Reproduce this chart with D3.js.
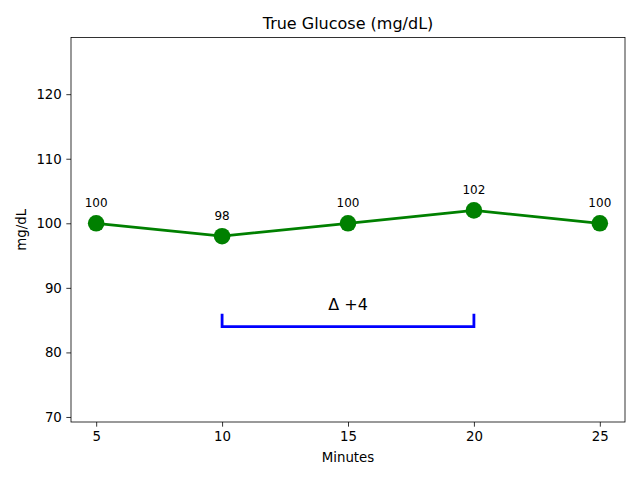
<!DOCTYPE html>
<html>
<head>
<meta charset="utf-8">
<script src="https://cdn.jsdelivr.net/npm/d3@7"></script>
<style>
body { margin: 0; background: #fff; }
svg { font-family: "DejaVu Sans", sans-serif; }
</style>
</head>
<body>
<script>
const minutes = [5, 10, 15, 20, 25];
const glucose = [100, 98, 100, 102, 100];
const xTicks = [5, 10, 15, 20, 25];
const yTicks = [70, 80, 90, 100, 110, 120];
const bracketFrom = 10, bracketTo = 20, bracketY = 84, bracketTip = 86, bracketLabelY = 86.55;
const deltaLabel = "\u0394 +4";

const W = 640, H = 480;
const m = { left: 71, right: 625, top: 37.5, bottom: 422 };

const svg = d3.select("body").append("svg").attr("width", W).attr("height", H);

const x = d3.scaleLinear().domain([4, 26]).range([m.left, m.right]);
const y = d3.scaleLinear().domain([69.22, 128.78]).range([m.bottom, m.top]);

// axes
const xAxis = d3.axisBottom(x).tickValues(xTicks).tickSize(4.67).tickPadding(4.5).tickFormat(d3.format("d"));
const yAxis = d3.axisLeft(y).tickValues(yTicks).tickSize(4.67).tickPadding(4.5).tickFormat(d3.format("d"));

const gx = svg.append("g").attr("transform", `translate(0,${m.bottom})`).call(xAxis);
const gy = svg.append("g").attr("transform", `translate(${m.left},0)`).call(yAxis);
[gx, gy].forEach(g => {
  g.select(".domain").remove();
  g.selectAll("line").attr("stroke", "#000").attr("stroke-width", 0.8);
  g.selectAll("text").attr("font-size", "13.33px").attr("fill", "#000").attr("font-family", "DejaVu Sans");
});

// frame
svg.append("rect").attr("x", m.left).attr("y", m.top)
  .attr("width", m.right - m.left).attr("height", m.bottom - m.top)
  .attr("fill", "none").attr("stroke", "#000").attr("stroke-width", 0.8);

// line
const data = minutes.map((d, i) => ({ x: d, y: glucose[i] }));
svg.append("path").datum(data)
  .attr("fill", "none").attr("stroke", "green").attr("stroke-width", 2.7)
  .attr("d", d3.line().x(d => x(d.x)).y(d => y(d.y)));

svg.selectAll("circle.pt").data(data).enter().append("circle")
  .attr("class", "pt")
  .attr("cx", d => x(d.x)).attr("cy", d => y(d.y)).attr("r", 8.3)
  .attr("fill", "green");

svg.selectAll("text.lbl").data(data).enter().append("text")
  .attr("class", "lbl")
  .attr("x", d => x(d.x)).attr("y", d => y(d.y) - 16.7)
  .attr("text-anchor", "middle").attr("font-size", "12px").attr("fill", "#000")
  .text(d => d.y);

// bracket
const bp = [[bracketFrom, bracketTip], [bracketFrom, bracketY], [bracketTo, bracketY], [bracketTo, bracketTip]];
svg.append("path")
  .attr("fill", "none").attr("stroke", "blue").attr("stroke-width", 2.8)
  .attr("d", d3.line().x(d => x(d[0])).y(d => y(d[1]))(bp));

svg.append("text")
  .attr("x", x((bracketFrom + bracketTo) / 2)).attr("y", y(bracketLabelY))
  .attr("text-anchor", "middle").attr("font-size", "16px").attr("fill", "#000")
  .text(deltaLabel);

// title & labels
svg.append("text").attr("x", (m.left + m.right) / 2).attr("y", 29)
  .attr("text-anchor", "middle").attr("font-size", "16px").attr("fill", "#000")
  .text("True Glucose (mg/dL)");

svg.append("text").attr("x", (m.left + m.right) / 2).attr("y", 462)
  .attr("text-anchor", "middle").attr("font-size", "13.33px").attr("fill", "#000")
  .text("Minutes");

svg.append("text")
  .attr("transform", `translate(26,${(m.top + m.bottom) / 2}) rotate(-90)`)
  .attr("text-anchor", "middle").attr("font-size", "13.33px").attr("fill", "#000")
  .text("mg/dL");
</script>
</body>
</html>
